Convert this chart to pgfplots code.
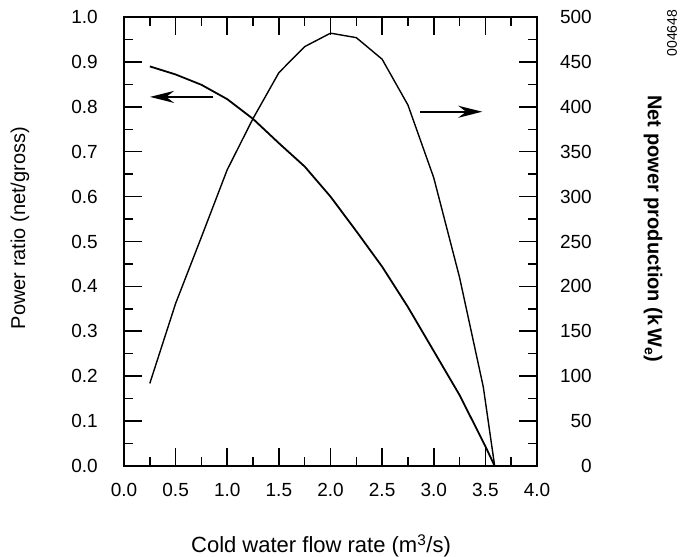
\documentclass[border=0pt]{standalone}
\usepackage{fontspec}
\setmainfont{Liberation Sans}
\usepackage{pgfplots}
\pgfplotsset{compat=1.18}
\usetikzlibrary{arrows.meta}

\pgfplotsset{
  common/.style={
    scale only axis,
    width=413pt, height=449pt,
    xmin=0, xmax=4,
    tick align=inside,
    major tick length=18pt,
    minor tick length=9pt,
    every tick/.style={line width=1.6pt, black},
    every minor tick/.style={line width=1.4pt, black},
    axis line style={line width=2pt},
    tick label style={font=\fontsize{19}{22}\selectfont},
    /pgf/number format/assume math mode=true,
  },
}

\begin{document}
\begin{tikzpicture}
  % left axis: power ratio
  \begin{axis}[
    common,
    ymin=0, ymax=1,
    xtick={0,0.5,...,4}, minor x tick num=1,
    ytick={0,0.1,...,1.0}, minor y tick num=1,
    xtick pos=both, ytick pos=left,
    xticklabel style={inner sep=0pt, yshift=-17pt,
      /pgf/number format/.cd, fixed, fixed zerofill, precision=1},
    yticklabel style={inner sep=0pt, xshift=-26pt,
      /pgf/number format/.cd, fixed, fixed zerofill, precision=1},
    xlabel={Cold water flow rate (m\textsuperscript{3}/s)},
    ylabel={Power ratio (net/gross)},
    every axis x label/.style={at={(axis description cs:0.477,-0.178)}, anchor=center,
      font=\fontsize{22}{26}\selectfont},
    every axis y label/.style={at={(axis description cs:-0.252,0.53)}, anchor=center,
      rotate=90, font=\fontsize{20}{24}\selectfont},
  ]
    \addplot[black, line width=1.8pt] coordinates {
      (0.25,0.890) (0.50,0.872) (0.75,0.849) (1.00,0.817) (1.25,0.773)
      (1.50,0.719) (1.75,0.667) (2.00,0.600) (2.25,0.523) (2.50,0.444)
      (2.75,0.354) (3.00,0.256) (3.25,0.158) (3.50,0.044) (3.59,0.0)
    };
    \draw[line width=1.8pt, -{Stealth[length=24pt,width=12pt]}]
      (axis cs:0.865,0.822) -- (axis cs:0.252,0.822);
    \draw[line width=1.8pt, -{Stealth[length=24pt,width=12pt]}]
      (axis cs:2.865,0.789) -- (axis cs:3.47,0.789);
  \end{axis}

  % right axis: net power production
  \begin{axis}[
    common,
    ymin=0, ymax=500,
    axis x line=none,
    axis y line*=right,
    ytick={0,50,...,500}, minor y tick num=1,
    yticklabel style={anchor=east, inner sep=0pt, xshift=55pt},
    ylabel={\bfseries Net power production (k\,W\textsubscript{e})},
    every axis y label/.style={at={(axis description cs:1.281,0.528)}, anchor=center,
      rotate=-90, font=\fontsize{20}{24}\selectfont},
  ]
    \addplot[black, line width=1.4pt] coordinates {
      (0.25,92) (0.50,181) (0.75,255) (1.00,330) (1.25,387)
      (1.50,438) (1.75,467) (2.00,482) (2.25,477) (2.50,453)
      (2.75,402) (3.00,321) (3.25,210) (3.48,88) (3.59,0)
    };
  \end{axis}

  \node[rotate=90, inner sep=0pt, font=\fontsize{14}{16}\selectfont] at (548pt,433pt) {004648};

  \pgfresetboundingbox
  \path[use as bounding box] (-124pt,-91pt) rectangle (559pt,466pt);
\end{tikzpicture}
\end{document}
